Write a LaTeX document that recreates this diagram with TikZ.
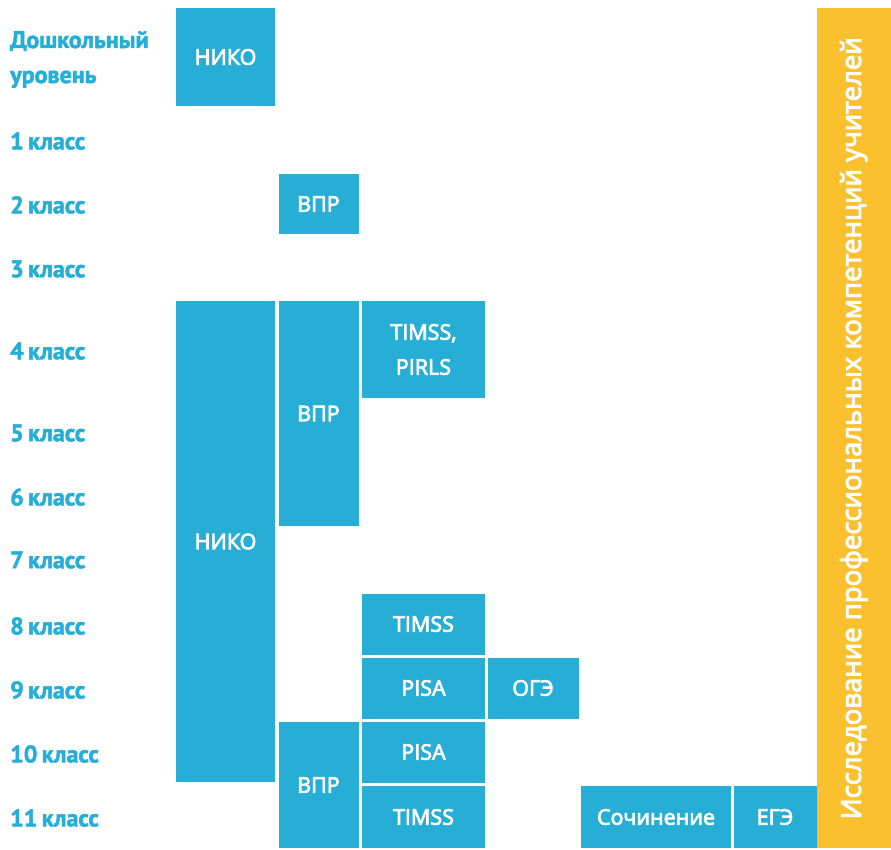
\documentclass[tikz,border=0pt]{standalone}
\usepackage{fontspec}
\setmainfont{Open Sans}
\newfontfamily\boxfont[FakeBold=3.5]{Open Sans}
\newfontfamily\labelfont[FakeBold=2]{PT Sans Bold}
\usetikzlibrary{positioning}
\definecolor{nikoblue}{RGB}{38,174,214}
\definecolor{studyyellow}{RGB}{251,192,45}
\tikzset{
  testbox/.style={fill=nikoblue, text=white, inner sep=0pt, align=center,
    font=\boxfont\fontsize{21.5}{35}\selectfont},
  gradelabel/.style={anchor=west, text=nikoblue, inner sep=0pt, align=left,
    font=\labelfont\fontsize{24}{35}\selectfont},
}
\begin{document}
\begin{tikzpicture}[x=1pt,y=-1pt]
  \useasboundingbox (0,0) rectangle (891,849);
  % grade labels
  \node[gradelabel] (preschool) at (10,59.5) {Дошкольный\\уровень};
  \foreach \g/\y in {1/141,2/205,3/269,4/351,5/433,6/497,7/560,8/626,9/690,10/754,11/818}
    \node[gradelabel] (grade\g) at (10,\y) {\g\hspace{0.18em}класс};
  % tests
  \node[testbox, minimum width=99pt, minimum height=98pt] (niko0) at (225.5,57) {НИКО};
  \node[testbox, minimum width=80pt, minimum height=60pt] (vpr2) at (318.5,204) {ВПР};
  \node[testbox, minimum width=99pt, minimum height=481pt] (niko) at (225.5,541.5) {НИКО};
  \node[testbox, minimum width=80pt, minimum height=225pt] (vpr4) at (318.5,413.5) {ВПР};
  \node[testbox, minimum width=123pt, minimum height=97pt] (timss4) at (423.5,349.5) {TIMSS,\\PIRLS};
  \node[testbox, minimum width=123pt, minimum height=61pt] (timss8) at (423.5,624) {TIMSS};
  \node[testbox, minimum width=123pt, minimum height=61pt] (pisa9) at (423.5,688) {PISA};
  \node[testbox, minimum width=91pt, minimum height=61pt] (oge) at (533,688) {ОГЭ};
  \node[testbox, minimum width=80pt, minimum height=126pt] (vpr10) at (318.5,785) {ВПР};
  \node[testbox, minimum width=123pt, minimum height=61pt] (pisa10) at (423.5,752) {PISA};
  \node[testbox, minimum width=123pt, minimum height=62pt] (timss11) at (423.5,817) {TIMSS};
  \node[testbox, minimum width=150pt, minimum height=62pt] (essay) at (656,817) {Сочинение};
  \node[testbox, minimum width=83pt, minimum height=62pt] (ege) at (775,817) {ЕГЭ};
  % teachers
  \node[fill=studyyellow, text=white, inner sep=0pt, rotate=90,
    minimum width=840pt, minimum height=74pt, font=\boxfont\fontsize{27.5}{34}\selectfont]
    (study) at (853.8,428.3) {Исследование профессиональных компетенций учителей};
\end{tikzpicture}
\end{document}
